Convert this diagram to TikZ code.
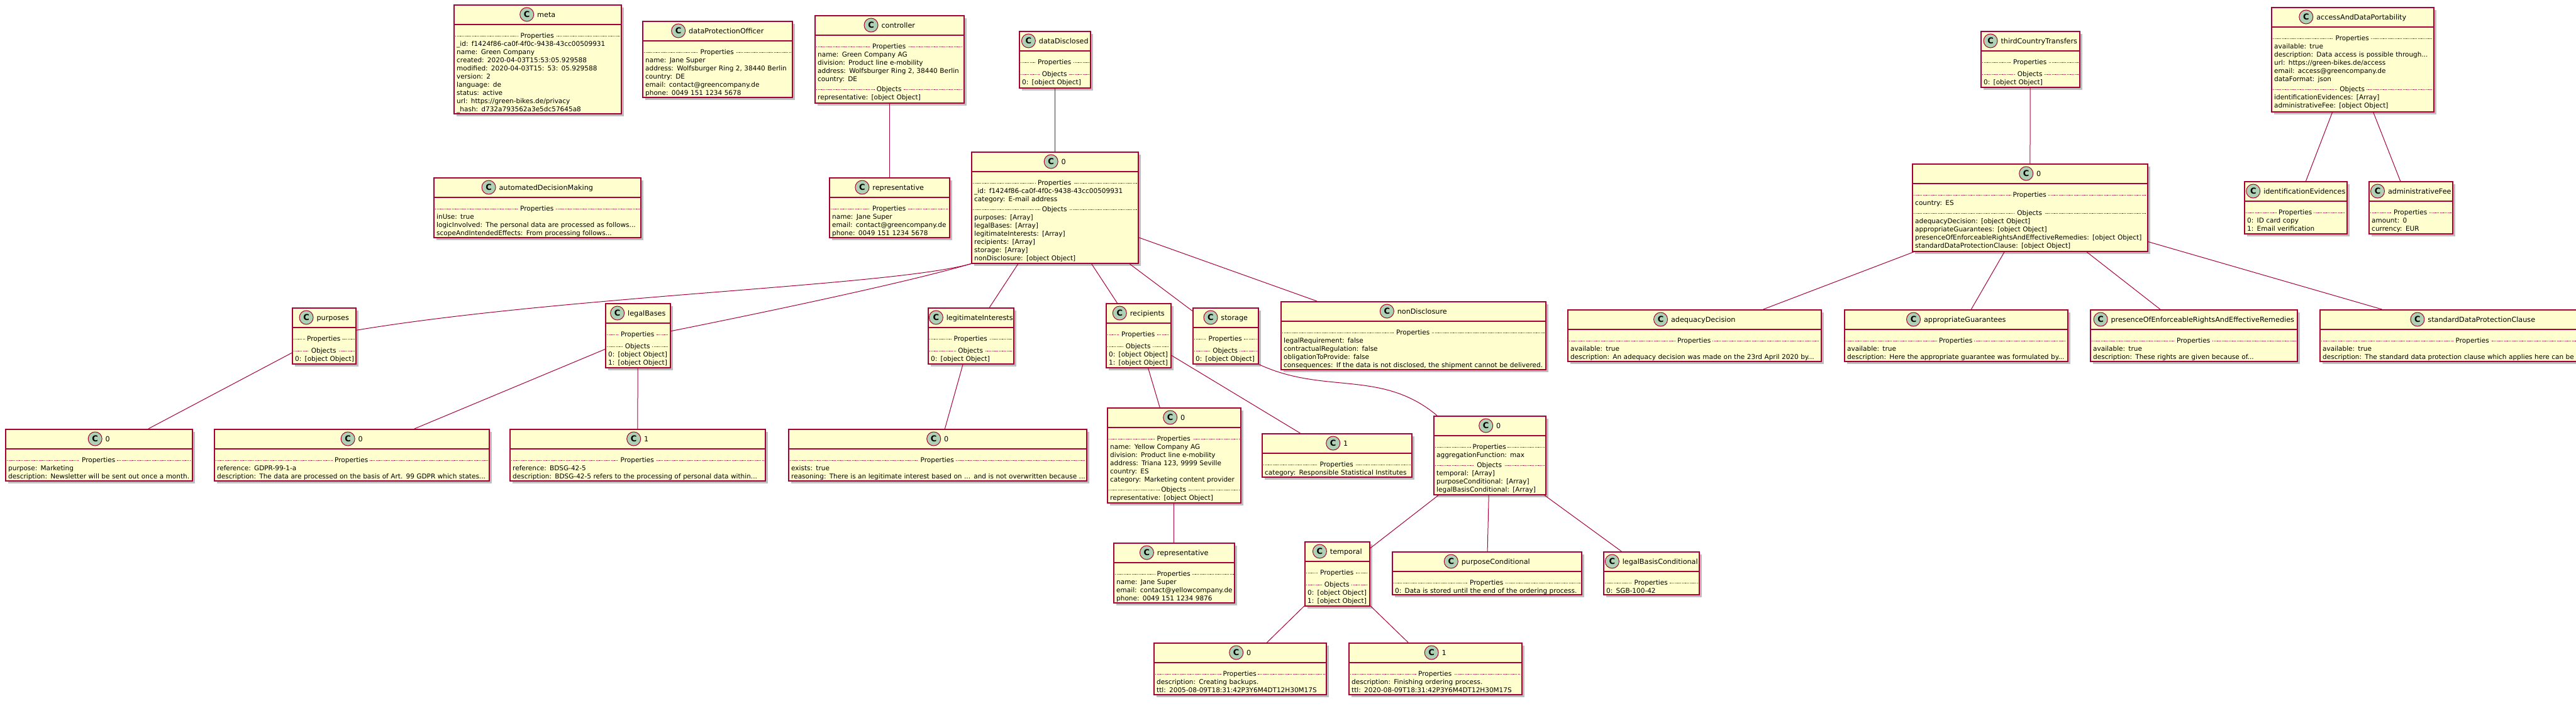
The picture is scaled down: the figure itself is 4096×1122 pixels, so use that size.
\documentclass[tikz,border=0pt]{standalone}
\usepackage{fontspec}
\setmainfont{DejaVu Sans}
\usepackage{xcolor}
\usetikzlibrary{positioning, shadows}

\definecolor{umlred}{HTML}{A80036}
\definecolor{umlfill}{HTML}{FEFECE}
\definecolor{iconfill}{HTML}{ADD1B2}

\newcommand{\bodyfont}{\fontsize{10.5}{13}\selectfont}
\newcommand{\titlefont}{\fontsize{11.2}{13}\selectfont}
\newcommand{\objstrut}{\rule[-3.5pt]{0pt}{13pt}}
\newcommand{\sepfill}{{\color{umlred}\leaders\hbox to 2.4pt{\hss\rule[3pt]{1.2pt}{0.6pt}\hss}\hfill}}
\newcommand{\objsep}[2][0]{\par\vspace{#1pt}\hbox to\hsize{\objstrut\sepfill\kern2pt #2\kern2pt\sepfill}}
\newcommand{\objline}[1]{\par\hbox to\hsize{\hspace{5pt}\objstrut #1\hss}}
\newcommand{\classmark}{\tikz[baseline=-4pt]\node[cicon]{C};}

\tikzstyle{objbox} = [rectangle, draw=umlred, line width=1.5pt, fill=umlfill, inner sep=0pt, drop shadow={shadow xshift=4pt, shadow yshift=-4pt, opacity=0.25, fill=black}]
\tikzstyle{conn} = [draw=umlred, line width=1pt]

% caja de objeto: nombre, x, y, ancho, alto, titulo, cuerpo
\newcommand{\umlobj}[7]{%
  \node[objbox, minimum width=#4pt, minimum height=#5pt, anchor=north west] (#1) at (#2,-#3) {};
  \draw[umlred, line width=1.5pt] ([yshift=-32pt]#1.north west) -- ([yshift=-32pt]#1.north east);
  \node[objtitle] (#1-title) at ([yshift=-16pt]#1.north) {\classmark\hspace{5pt}#6};
  \node[objbody, text width=#4pt] (#1-body) at ([yshift=-40pt]#1.north west) {#7};
}

\begin{document}
\begin{tikzpicture}[
		x=1pt, y=1pt,
		cicon/.style={circle, draw=umlred, line width=1pt, fill=iconfill, minimum size=22pt, inner sep=0pt, font=\bfseries\fontsize{13}{13}\selectfont},
		objtitle/.style={inner sep=0pt, anchor=center, font=\titlefont},
		objbody/.style={inner sep=0pt, anchor=north west, font=\bodyfont}
		]
		\useasboundingbox (0,0) rectangle (4096,-1122);
		
		% Objetos arriba
		\umlobj{meta}{721}{7}{266}{173}{meta}{%
			\objsep{Properties}
			\objline{\_id: f1424f86-ca0f-4f0c-9438-43cc00509931}
			\objline{name: Green Company}
			\objline{created: 2020-04-03T15:53:05.929588}
			\objline{modified: 2020-04-03T15: 53: 05.929588}
			\objline{version: 2}
			\objline{language: de}
			\objline{status: active}
			\objline{url: https://green-bikes.de/privacy}
			\objline{\_hash: d732a793562a3e5dc57645a8}}
		\umlobj{dpo}{1021}{33}{238}{121}{dataProtectionOfficer}{%
			\objsep{Properties}
			\objline{name: Jane Super}
			\objline{address: Wolfsburger Ring 2, 38440 Berlin}
			\objline{country: DE}
			\objline{email: contact@greencompany.de}
			\objline{phone: 0049 151 1234 5678}}
		\umlobj{controller}{1295}{24}{237}{139}{controller}{%
			\objsep{Properties}
			\objline{name: Green Company AG}
			\objline{division: Product line e-mobility}
			\objline{address: Wolfsburger Ring 2, 38440 Berlin}
			\objline{country: DE}
			\objsep[3]{Objects}
			\objline{representative: [object Object]}}
		\umlobj{adm}{689}{282}{329}{95}{automatedDecisionMaking}{%
			\objsep{Properties}
			\objline{inUse: true}
			\objline{logicInvolved: The personal data are processed as follows...}
			\objline{scopeAndIntendedEffects: From processing follows...}}
		\umlobj{ctrlrep}{1318}{282}{191}{95}{representative}{%
			\objsep{Properties}
			\objline{name: Jane Super}
			\objline{email: contact@greencompany.de}
			\objline{phone: 0049 151 1234 5678}}
		\umlobj{disclosed}{1620}{49}{113}{90}{dataDisclosed}{%
			\objsep{Properties}
			\objsep[6]{Objects}
			\objline{0: [object Object]}}
		\umlobj{dd0}{1544}{241}{265}{177}{0}{%
			\objsep{Properties}
			\objline{\_id: f1424f86-ca0f-4f0c-9438-43cc00509931}
			\objline{category: E-mail address}
			\objsep[3]{Objects}
			\objline{purposes: [Array]}
			\objline{legalBases: [Array]}
			\objline{legitimateInterests: [Array]}
			\objline{recipients: [Array]}
			\objline{storage: [Array]}
			\objline{nonDisclosure: [object Object]}}
		\umlobj{tct}{3149}{49}{157}{89}{thirdCountryTransfers}{%
			\objsep{Properties}
			\objsep[6]{Objects}
			\objline{0: [object Object]}}
		\umlobj{tct0}{3040}{260}{374}{139}{0}{%
			\objsep{Properties}
			\objline{country: ES}
			\objsep[3]{Objects}
			\objline{adequacyDecision: [object Object]}
			\objline{appropriateGuarantees: [object Object]}
			\objline{presenceOfEnforceableRightsAndEffectiveRemedies: [object Object]}
			\objline{standardDataProtectionClause: [object Object]}}
		\umlobj{access}{3611}{11}{258}{166}{accessAndDataPortability}{%
			\objsep{Properties}
			\objline{available: true}
			\objline{description: Data access is possible through...}
			\objline{url: https://green-bikes.de/access}
			\objline{email: access@greencompany.de}
			\objline{dataFormat: json}
			\objsep[3]{Objects}
			\objline{identificationEvidences: [Array]}
			\objline{administrativeFee: [object Object]}}
		\umlobj{idev}{3568}{288}{163}{83}{identificationEvidences}{%
			\objsep{Properties}
			\objline{0: ID card copy}
			\objline{1: Email verification}}
		\umlobj{fee}{3766}{288}{133}{83}{administrativeFee}{%
			\objsep{Properties}
			\objline{amount: 0}
			\objline{currency: EUR}}
		
		% Objetos del medio
		\umlobj{purposes}{464}{489}{101}{89}{purposes}{%
			\objsep{Properties}
			\objsep[6]{Objects}
			\objline{0: [object Object]}}
		\umlobj{legal}{962}{482}{103}{102}{legalBases}{%
			\objsep{Properties}
			\objsep[6]{Objects}
			\objline{0: [object Object]}
			\objline{1: [object Object]}}
		\umlobj{legit}{1475}{489}{136}{89}{legitimateInterests}{%
			\objsep{Properties}
			\objsep[6]{Objects}
			\objline{0: [object Object]}}
		\umlobj{recip}{1758}{482}{103}{102}{recipients}{%
			\objsep{Properties}
			\objsep[6]{Objects}
			\objline{0: [object Object]}
			\objline{1: [object Object]}}
		\umlobj{storage}{1896}{489}{104}{89}{storage}{%
			\objsep{Properties}
			\objsep[6]{Objects}
			\objline{0: [object Object]}}
		\umlobj{nondisc}{2036}{479}{421}{108}{nonDisclosure}{%
			\objsep{Properties}
			\objline{legalRequirement: false}
			\objline{contractualRegulation: false}
			\objline{obligationToProvide: false}
			\objline{consequences: If the data is not disclosed, the shipment cannot be delivered.}}
		\umlobj{adequacy}{2492}{492}{403}{82}{adequacyDecision}{%
			\objsep{Properties}
			\objline{available: true}
			\objline{description: An adequacy decision was made on the 23rd April 2020 by...}}
		\umlobj{guarantees}{2932}{492}{355}{82}{appropriateGuarantees}{%
			\objsep{Properties}
			\objline{available: true}
			\objline{description: Here the appropriate guarantee was formulated by...}}
		\umlobj{remedies}{3323}{492}{329}{82}{presenceOfEnforceableRightsAndEffectiveRemedies}{%
			\objsep{Properties}
			\objline{available: true}
			\objline{description: These rights are given because of...}}
		\umlobj{sdpc}{3688}{492}{486}{82}{standardDataProtectionClause}{%
			\objsep{Properties}
			\objline{available: true}
			\objline{description: The standard data protection clause which applies here can be}}
		
		% Objetos abajo
		\umlobj{purp0}{8}{682}{297}{82}{0}{%
			\objsep{Properties}
			\objline{purpose: Marketing}
			\objline{description: Newsletter will be sent out once a month.}}
		\umlobj{legal0}{340}{682}{437}{82}{0}{%
			\objsep{Properties}
			\objline{reference: GDPR-99-1-a}
			\objline{description: The data are processed on the basis of Art. 99 GDPR which states...}}
		\umlobj{legal1}{810}{682}{406}{82}{1}{%
			\objsep{Properties}
			\objline{reference: BDSG-42-5}
			\objline{description: BDSG-42-5 refers to the processing of personal data within...}}
		\umlobj{legit0}{1253}{682}{474}{82}{0}{%
			\objsep{Properties}
			\objline{exists: true}
			\objline{reasoning: There is an legitimate interest based on ... and is not overwritten because ...}}
		\umlobj{recip0}{1760}{648}{212}{151}{0}{%
			\objsep{Properties}
			\objline{name: Yellow Company AG}
			\objline{division: Product line e-mobility}
			\objline{address: Triana 123, 9999 Seville}
			\objline{country: ES}
			\objline{category: Marketing content provider}
			\objsep[3]{Objects}
			\objline{representative: [object Object]}}
		\umlobj{recip1}{2006}{689}{238}{69}{1}{%
			\objsep{Properties}
			\objline{category: Responsible Statistical Institutes}}
		\umlobj{stor0}{2279}{661}{178}{125}{0}{%
			\objsep{Properties}
			\objline{aggregationFunction: max}
			\objsep[3]{Objects}
			\objline{temporal: [Array]}
			\objline{purposeConditional: [Array]}
			\objline{legalBasisConditional: [Array]}}
		\umlobj{recip0rep}{1770}{863}{192}{95}{representative}{%
			\objsep{Properties}
			\objline{name: Jane Super}
			\objline{email: contact@yellowcompany.de}
			\objline{phone: 0049 151 1234 9876}}
		\umlobj{temporal}{2074}{861}{103}{102}{temporal}{%
			\objsep{Properties}
			\objsep[6]{Objects}
			\objline{0: [object Object]}
			\objline{1: [object Object]}}
		\umlobj{purpcond}{2213}{877}{301}{68}{purposeConditional}{%
			\objsep{Properties}
			\objline{0: Data is stored until the end of the ordering process.}}
		\umlobj{legalcond}{2549}{877}{152}{68}{legalBasisConditional}{%
			\objsep{Properties}
			\objline{0: SGB-100-42}}
		\umlobj{temp0}{1834}{1022}{274}{82}{0}{%
			\objsep{Properties}
			\objline{description: Creating backups.}
			\objline{ttl: 2005-08-09T18:31:42P3Y6M4DT12H30M17S}}
		\umlobj{temp1}{2144}{1022}{275}{82}{1}{%
			\objsep{Properties}
			\objline{description: Finishing ordering process.}
			\objline{ttl: 2020-08-09T18:31:42P3Y6M4DT12H30M17S}}
		
		% Lineas
		\draw[conn] (controller) -- (ctrlrep);
		\draw[conn] (disclosed) -- (dd0);
		\draw[conn] (dd0.south west) .. controls (1420,-455) and (900,-470) .. ([yshift=9pt]purposes.east);
		\draw[conn] (dd0.south west) .. controls (1440,-450) and (1200,-500) .. ([yshift=7pt]legal.east);
		\draw[conn] (dd0) -- (legit);
		\draw[conn] (dd0) -- (recip);
		\draw[conn] (dd0) -- (storage);
		\draw[conn] (dd0) -- (nondisc);
		\draw[conn] (purposes) -- (purp0);
		\draw[conn] (legal) -- (legal0);
		\draw[conn] (legal) -- (legal1);
		\draw[conn] (legit) -- (legit0);
		\draw[conn] (recip) -- (recip0);
		\draw[conn] (recip) -- (recip1);
		\draw[conn] (storage.south east) to[out=-25, in=140] ([xshift=6pt]stor0.north west);
		\draw[conn] (recip0) -- (recip0rep);
		\draw[conn] (stor0) -- (temporal);
		\draw[conn] (stor0) -- (purpcond);
		\draw[conn] (stor0) -- (legalcond);
		\draw[conn] (temporal) -- (temp0);
		\draw[conn] (temporal) -- (temp1);
		\draw[conn] (tct) -- (tct0);
		\draw[conn] (tct0) -- (adequacy);
		\draw[conn] (tct0) -- (guarantees);
		\draw[conn] (tct0) -- (remedies);
		\draw[conn] (tct0) -- (sdpc);
		\draw[conn] (access) -- (idev);
		\draw[conn] (access) -- (fee);
		
	\end{tikzpicture}
\end{document}
